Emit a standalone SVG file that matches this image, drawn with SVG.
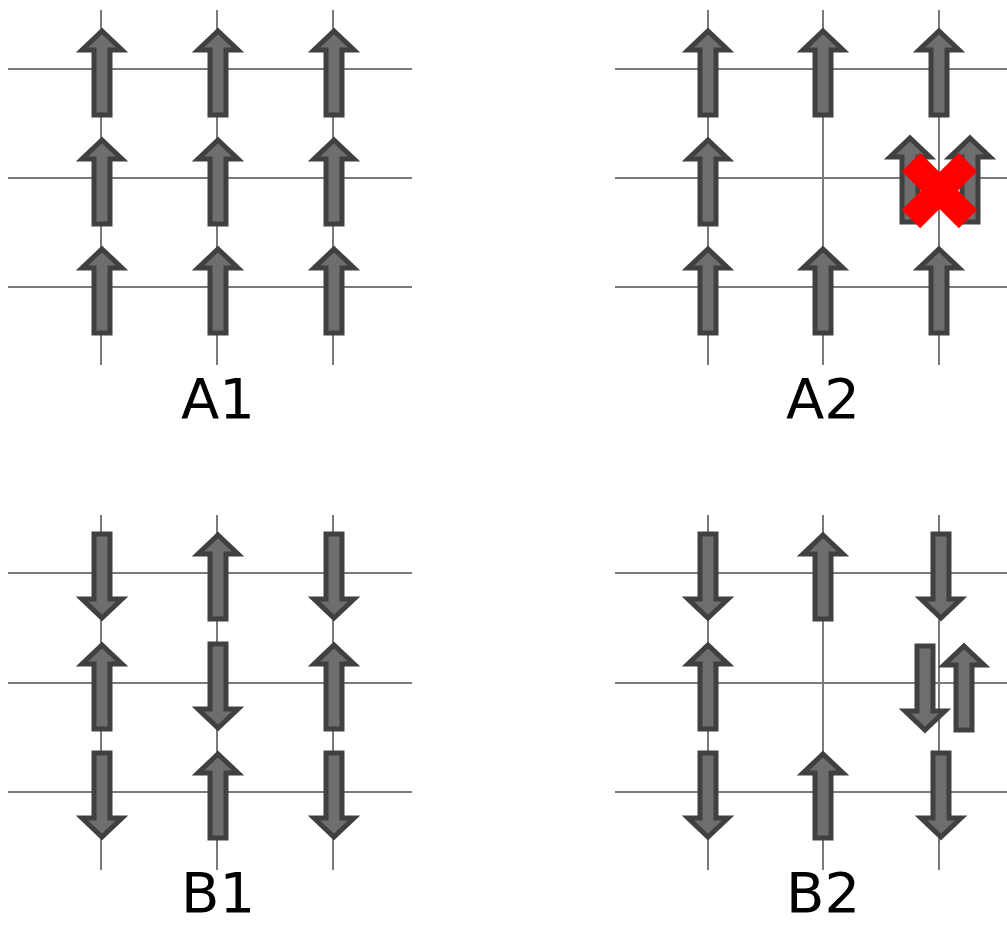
<svg xmlns="http://www.w3.org/2000/svg" width="1007" height="925" viewBox="0 0 1007 925">
<style>
.grid{stroke:#7a7a7a;stroke-width:2;fill:none}
.arr{fill:#6e6e6e;stroke:#404040;stroke-width:5;stroke-linejoin:miter}
.lbl{font-family:"DejaVu Sans",Verdana,sans-serif;font-size:56px;fill:#000;text-anchor:middle}
.x{stroke:#ff0000;stroke-width:26;stroke-linecap:butt}
</style>
<defs>
<path id="up" class="arr" d="M0,-38 L20,-19 L8,-19 L8,46 L-8,46 L-8,-19 L-20,-19 Z"/>
<path id="down" class="arr" d="M0,45 L20,26 L8,26 L8,-39 L-8,-39 L-8,26 L-20,26 Z"/>
</defs>
<g id="grids">
<g id="gridA1" class="grid">
<line x1="8" y1="69" x2="412" y2="69"/><line x1="8" y1="178" x2="412" y2="178"/><line x1="8" y1="287" x2="412" y2="287"/>
<line x1="101" y1="10" x2="101" y2="365"/><line x1="217" y1="10" x2="217" y2="365"/><line x1="333" y1="10" x2="333" y2="365"/>
</g>
<g id="gridA2" class="grid">
<line x1="615" y1="69" x2="1007" y2="69"/><line x1="615" y1="178" x2="1007" y2="178"/><line x1="615" y1="287" x2="1007" y2="287"/>
<line x1="708" y1="10" x2="708" y2="365"/><line x1="823" y1="10" x2="823" y2="365"/><line x1="939" y1="10" x2="939" y2="365"/>
</g>
<g id="gridB1" class="grid">
<line x1="8" y1="573" x2="412" y2="573"/><line x1="8" y1="683" x2="412" y2="683"/><line x1="8" y1="792" x2="412" y2="792"/>
<line x1="101" y1="515" x2="101" y2="870"/><line x1="217" y1="515" x2="217" y2="870"/><line x1="333" y1="515" x2="333" y2="870"/>
</g>
<g id="gridB2" class="grid">
<line x1="615" y1="573" x2="1007" y2="573"/><line x1="615" y1="683" x2="1007" y2="683"/><line x1="615" y1="792" x2="1007" y2="792"/>
<line x1="708" y1="515" x2="708" y2="870"/><line x1="823" y1="515" x2="823" y2="870"/><line x1="939" y1="515" x2="939" y2="870"/>
</g>
</g>
<g id="A1">
<use href="#up" x="102" y="69"/><use href="#up" x="218" y="69"/><use href="#up" x="334" y="69"/>
<use href="#up" x="102" y="178"/><use href="#up" x="218" y="178"/><use href="#up" x="334" y="178"/>
<use href="#up" x="102" y="287"/><use href="#up" x="218" y="287"/><use href="#up" x="334" y="287"/>
<text class="lbl" x="218" y="418">A1</text>
</g>
<g id="A2">
<use href="#up" x="708" y="69"/><use href="#up" x="823" y="69"/><use href="#up" x="939" y="69"/>
<use href="#up" x="708" y="178"/>
<use href="#up" x="910" y="176"/><use href="#up" x="970" y="176"/>
<use href="#up" x="708" y="287"/><use href="#up" x="823" y="287"/><use href="#up" x="939" y="287"/>
<g id="cross">
<line class="x" x1="911" y1="162" x2="968" y2="219"/>
<line class="x" x1="968" y1="162" x2="911" y2="219"/>
</g>
<text class="lbl" x="823" y="418">A2</text>
</g>
<g id="B1">
<use href="#down" x="102" y="573"/><use href="#up" x="218" y="573"/><use href="#down" x="334" y="573"/>
<use href="#up" x="102" y="683"/><use href="#down" x="218" y="683"/><use href="#up" x="334" y="683"/>
<use href="#down" x="102" y="792"/><use href="#up" x="218" y="792"/><use href="#down" x="334" y="792"/>
<text class="lbl" x="218" y="912">B1</text>
</g>
<g id="B2">
<use href="#down" x="708" y="573"/><use href="#up" x="823" y="573"/><use href="#down" x="941" y="573"/>
<use href="#up" x="708" y="683"/>
<use href="#down" x="925" y="685"/><use href="#up" x="964" y="684"/>
<use href="#down" x="708" y="792"/><use href="#up" x="823" y="792"/><use href="#down" x="941" y="792"/>
<text class="lbl" x="823" y="912">B2</text>
</g>
</svg>
